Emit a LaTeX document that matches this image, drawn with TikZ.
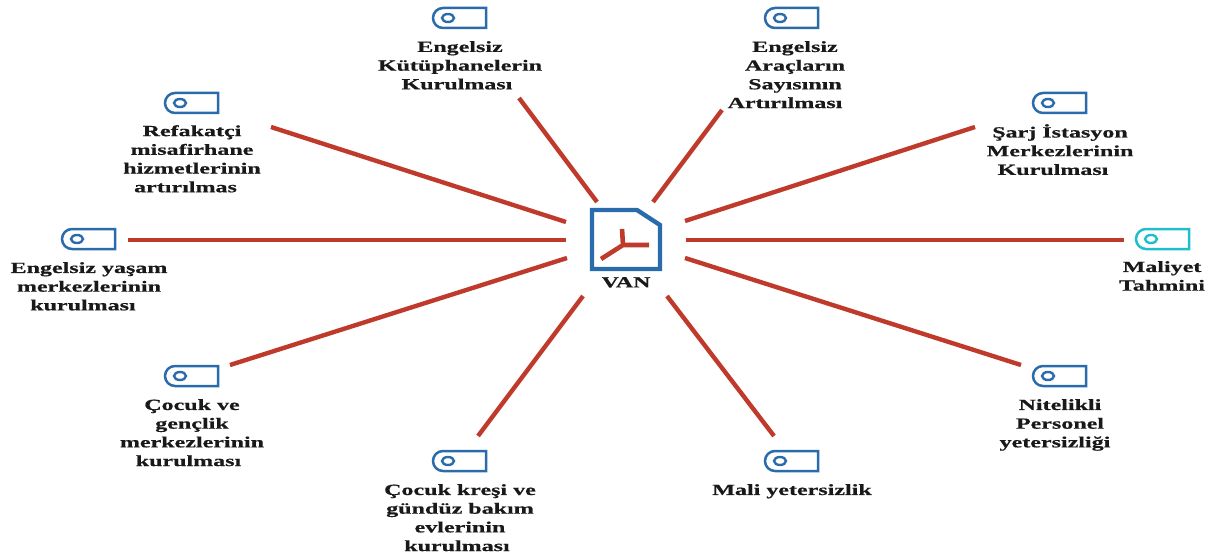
\documentclass[tikz,border=0pt]{standalone}
\usepackage{fontspec}
\newfontfamily\labfont[FakeStretch=1.55,FakeBold=0.6]{Liberation Serif Bold}
\definecolor{tagblue}{HTML}{2A6CAB}
\definecolor{linkred}{HTML}{BF3A2B}
\definecolor{tagcyan}{HTML}{1EBFCB}
\tikzset{
  x=1pt,y=-1pt,
  link/.style={draw=linkred,line width=4.4pt},
  flatlink/.style={draw=linkred,line width=3.6pt},
  lab/.style={font=\labfont\fontsize{15.5}{18.7}\selectfont,align=center,inner sep=0pt,anchor=north,text=black!90},
}
\newcommand{\tagicon}[3][tagblue]{%
  \begin{scope}[shift={(#2,#3)}]
    \draw[line width=2.5pt,draw=#1,line join=miter] (-17,-10) -- (26,-10) -- (26,10) -- (-17,10) arc[start angle=270,end angle=90,radius=10pt] -- cycle;
    \draw[line width=2.4pt,draw=#1] (-12,0) ellipse[x radius=6pt,y radius=4pt];
  \end{scope}}
\begin{document}
\begin{tikzpicture}
\useasboundingbox (0,0) rectangle (1220,556);
% document hub
\draw[draw=tagblue,line width=4.4pt,line join=miter,fill=white] (592,210) -- (637,210) -- (660,225) -- (660,269) -- (592,269) -- cycle;
\coordinate (hubc) at (623,245);
\draw[draw=linkred,line width=4.6pt] (hubc) -- (622,229) (hubc) -- (649,245) (hubc) -- (601,259);
% tags
\tagicon{460}{18}
\tagicon{792}{18}
\tagicon{192}{103}
\tagicon{1060}{103}
\tagicon{89}{239}
\tagicon[tagcyan]{1163}{239}
\tagicon{192}{376}
\tagicon{1060}{376}
\tagicon{460}{461}
\tagicon{792}{461}
% labels
\node[lab] (hub) at (626,277) {VAN};
\node[lab] (a) at (460,41) {Engelsiz\\Kütüphanelerin\\Kurulması\hspace*{6pt}};
\node[lab] (b) at (795,41) {Engelsiz\\Araçların\\Sayısının\\Artırılması\hspace*{20pt}};
\node[lab] (c) at (192,125) {Refakatçi\\misafirhane\\hizmetlerinin\\artırılmas\hspace*{13pt}};
\node[lab] (d) at (1060,124) {Şarj İstasyon\\Merkezlerinin\\Kurulması\hspace*{14pt}};
\node[lab] (e) at (89,262) {Engelsiz yaşam\\merkezlerinin\\kurulması\hspace*{12pt}};
\node[lab] (f) at (1162,261) {Maliyet\\Tahmini};
\node[lab] (g) at (192,399) {Çocuk ve\\gençlik\\merkezlerinin\\kurulması\hspace*{7pt}};
\node[lab] (h) at (1060,399) {Nitelikli\\Personel\\yetersizliği\hspace*{10pt}};
\node[lab] (i) at (460,484) {Çocuk kreşi ve\\gündüz bakım\\evlerinin\\kurulması\hspace*{6pt}};
\node[lab] (j) at (792,484) {Mali yetersizlik};
% connector ends
\foreach \n/\x/\y in {a1/519/98,a2/597/202,b1/722/110,b2/653/202,c1/271/127,c2/566/222,d1/975/127,d2/685/221,e1/128/240,e2/566/240,f1/1124/240,f2/686/240,g1/230/365,g2/567/258,h1/1021/365,h2/685/258,i1/478/436,i2/583/296,j1/774/436,j2/667/296}
  \coordinate (\n) at (\x,\y);
\foreach \n in {a,b,c,d,g,h,i,j}
  \draw[link] (\n1) -- (\n2);
\foreach \n in {e,f}
  \draw[flatlink] (\n1) -- (\n2);
\end{tikzpicture}
\end{document}
